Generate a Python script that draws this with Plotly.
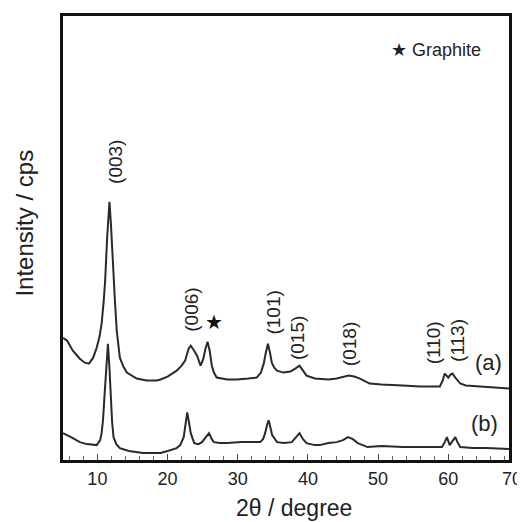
import plotly.graph_objects as go

# 2theta (degree) and intensity (arbitrary units)
two_theta_a = [5.1, 5.7, 6.5, 7.5, 8.2, 8.8, 9.4, 9.9, 10.3, 10.6, 10.9, 11.1, 11.4, 11.72, 11.95,
               12.2, 12.5, 12.76, 13.0, 13.2, 13.7, 14.2, 15.6, 17.0, 18.5, 19.0, 20.0, 21.3, 22.0,
               22.5, 23.0, 23.3, 23.7, 24.2, 24.7, 25.1, 25.4, 25.7, 26.0, 26.3, 26.6, 27.0, 28.5,
               29.9, 31.5, 32.7, 33.3, 33.7, 34.0, 34.3, 34.6, 34.85, 35.2, 35.6, 36.5, 37.5, 38.2,
               38.8, 39.3, 39.8, 41.0, 42.9, 44.1, 45.0, 45.8, 46.6, 47.4, 48.8, 50.5, 53.5, 56.0,
               58.8, 59.2, 59.5, 59.8, 60.0, 60.3, 60.6, 61.0, 61.7, 62.5, 64.5, 66.5, 68.65]
intensity_a = [123, 120, 110, 102, 98, 97, 103, 113, 124, 137, 160, 180, 225, 260, 235,
               197, 160, 130, 112, 103, 94, 88, 82, 80, 80, 81, 84, 90, 95,
               100, 112, 115, 111, 105, 95, 102, 112, 119, 110, 95, 88, 83, 81,
               81, 82, 83, 88, 97, 108, 117, 108, 98, 93, 90, 88, 89, 92,
               95, 90, 85, 82, 81, 82, 84, 85, 84, 82, 77, 76, 75, 74,
               74, 80, 87, 84, 83, 86, 87, 83, 77, 75, 74, 73, 72]

two_theta_b = [5.1, 5.7, 6.5, 7.5, 8.5, 9.9, 10.4, 10.6, 10.8, 11.0, 11.25, 11.5, 11.7, 11.9, 12.1,
               12.3, 12.7, 13.2, 14.5, 16.5, 18.0, 19.0, 20.0, 21.3, 21.8, 22.3, 22.6, 22.8, 23.05,
               23.3, 23.8, 24.4, 24.9, 25.4, 25.9, 26.3, 26.6, 27.5, 28.5, 30.5, 32.0, 33.2, 33.6,
               33.9, 34.2, 34.4, 34.65, 34.9, 35.6, 36.6, 37.7, 38.3, 38.8, 39.3, 39.8, 41.0, 41.7,
               42.9, 44.1, 45.0, 45.7, 46.4, 47.1, 48.5, 50.5, 53.5, 56.0, 59.1, 59.5, 59.8, 60.0,
               60.2, 60.6, 61.0, 61.3, 61.7, 63.5, 65.4, 68.65]
intensity_b = [27, 25, 22, 18, 16, 15, 20, 27, 40, 63, 90, 117, 95, 63, 38,
               23, 16, 12, 9, 7, 7, 7, 9, 12, 15, 23, 38, 48, 38,
               27, 17, 16, 18, 22, 27, 21, 18, 17, 17, 18, 18, 18, 21,
               27, 36, 40, 33, 25, 18, 17, 18, 23, 27, 21, 17, 15, 15,
               17, 18, 20, 23, 21, 17, 13, 14, 13, 13, 13, 18, 23, 19,
               15, 19, 23, 18, 13, 12, 12, 11]

# peak labels
peak_labels = ["(003)", "(006)", "(101)", "(015)", "(018)", "(110)", "(113)"]
peak_label_x = [12.5, 23.3, 35.1, 38.55, 45.9, 57.9, 61.4]
peak_label_y = [300, 151, 148, 122.5, 117, 118, 120]

curve_labels = ["(a)", "(b)"]
curve_label_x = [65.7, 65.2]
curve_label_y = [98, 37]

x_range = [5.1, 68.65]
x_tick_vals = [10, 20, 30, 40, 50, 60]
x_tick_text = ["10", "20", "30", "40", "50", "60"]
x_edge_label = "70"

FONT = "Arial, Liberation Sans, sans-serif"
LINE = "#2a2a2a"

fig = go.Figure()
fig.add_trace(go.Scatter(x=two_theta_a, y=intensity_a, mode="lines",
                         line=dict(color=LINE, width=2), showlegend=False))
fig.add_trace(go.Scatter(x=two_theta_b, y=intensity_b, mode="lines",
                         line=dict(color=LINE, width=2), showlegend=False))

for t, x, y in zip(peak_labels, peak_label_x, peak_label_y):
    fig.add_annotation(x=x, y=y, xref="x", yref="y", text=t, textangle=-90,
                       showarrow=False, font=dict(family=FONT, size=19, color="#222"))
for t, x, y in zip(curve_labels, curve_label_x, curve_label_y):
    fig.add_annotation(x=x, y=y, xref="x", yref="y", text=t,
                       showarrow=False, font=dict(family=FONT, size=22, color="#222"))

# graphite star marker above the peak and the legend note
fig.add_annotation(x=26.55, y=139, xref="x", yref="y", text="★", showarrow=False,
                   font=dict(family="DejaVu Sans", size=20, color="#111"))
fig.add_annotation(x=51.55, y=413, xref="x", yref="y", text="★ Graphite", showarrow=False,
                   xanchor="left", font=dict(family=FONT, size=18, color="#222"))

# the "70" label sits at the right frame edge in the original
fig.add_annotation(x=1, y=0, xref="paper", yref="paper", text=x_edge_label, showarrow=False,
                   xanchor="center", yanchor="top", xshift=3, yshift=-7,
                   font=dict(family=FONT, size=18, color="#222"))

# axis titles
fig.add_annotation(x=38.0, y=0, xref="x", yref="paper", text="2θ / degree", showarrow=False,
                   yanchor="middle", yshift=-48, font=dict(family=FONT, size=23, color="#222"))
fig.add_annotation(x=0, y=238, xref="paper", yref="y", text="Intensity / cps", showarrow=False,
                   textangle=-90, xanchor="center", xshift=-38,
                   font=dict(family=FONT, size=24, color="#222"))

fig.update_xaxes(range=x_range, tickvals=x_tick_vals, ticktext=x_tick_text,
                 ticks="inside", ticklen=6, tickwidth=1, tickcolor="#444",
                 minor=dict(dtick=2, tick0=0, ticks="inside", ticklen=4, tickcolor="#666"),
                 showline=True, linewidth=3, linecolor="#111", mirror=True,
                 showgrid=False, zeroline=False,
                 tickfont=dict(family=FONT, size=18, color="#222"))
fig.update_yaxes(range=[0, 447], showticklabels=False, ticks="",
                 showline=True, linewidth=3, linecolor="#111", mirror=True,
                 showgrid=False, zeroline=False)

# page body adds an 8 px offset, so the figure is sized to fit the window
fig.update_layout(width=517, height=514, margin=dict(l=55, r=16, t=5, b=62),
                  paper_bgcolor="white", plot_bgcolor="white")

fig.write_html("out.html")
